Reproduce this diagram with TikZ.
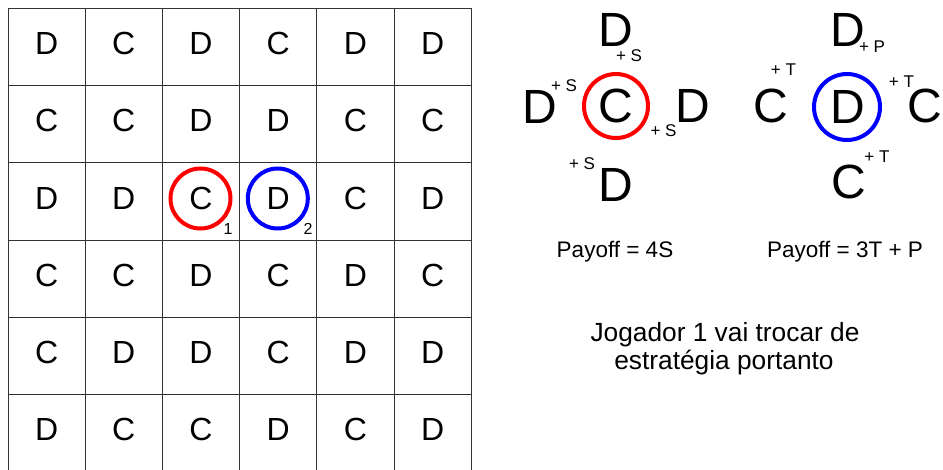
\documentclass[tikz,border=0pt]{standalone}
\usepackage{fontspec}
\setmainfont{Liberation Sans}
\begin{document}
\begin{tikzpicture}[x=1pt,y=-1pt,
  gridline/.style={draw=black!80,line width=1pt},
  cell/.style={inner sep=0pt,font=\fontsize{32}{38}\selectfont},
  big/.style={inner sep=0pt,font=\fontsize{48}{56}\selectfont},
  small/.style={inner sep=0pt,font=\fontsize{17}{20}\selectfont},
  sub/.style={inner sep=0pt,font=\fontsize{16}{19}\selectfont},
  caption/.style={inner sep=0pt,font=\fontsize{22.5}{26}\selectfont,anchor=base},
  note/.style={inner sep=0pt,align=center,font=\fontsize{26.3}{29}\selectfont,anchor=base},
  redring/.style={draw=red,line width=4pt},
  bluering/.style={draw=blue,line width=4pt}]
\useasboundingbox (0,0) rectangle (943,470);
\fill[white] (0,0) rectangle (943,470);
% grid
\foreach \i in {0,...,6} {
  \draw[gridline] ({8+77.2*\i},8.5) -- ({8+77.2*\i},472);
  \draw[gridline] (8,{8.5+77.2*\i}) -- (471.2,{8.5+77.2*\i});
}
\foreach \row [count=\r from 0] in {{D,C,D,C,D,D},{C,C,D,D,C,C},{D,D,C,D,C,D},{C,C,D,C,D,C},{C,D,D,C,D,D},{D,C,C,D,C,D}} {
  \foreach \l [count=\c from 0] in \row {
    \node[cell] (g\r\c) at ({8+77.2*(\c+0.5)},{8.5+77.2*(\r+0.5)-3.5}) {\l};
  }
}
\draw[redring] (200.5,198.5) circle (30);
\draw[bluering] (277.8,198.5) circle (30);
\node[sub] (s1) at (228,229) {1};
\node[sub] (s2) at (308,229) {2};
% left cluster (player 1)
\node[big] (ac) at (616,106) {C};
\draw[redring] (616,106) circle (32);
\node[big] (at) at (616,29.5) {D};
\node[small] (ats) at (629,56) {+ S};
\node[big] (al) at (540,106.5) {D};
\node[small] (als) at (564,86) {+ S};
\node[big] (ar) at (693,105.5) {D};
\node[small] (ars) at (663.5,131) {+ S};
\node[big] (ab) at (616,184.5) {D};
\node[small] (abs) at (582,164) {+ S};
% right cluster (player 2)
\node[big] (bc) at (848,106.5) {D};
\draw[bluering] (847,107) circle (33);
\node[big] (bt) at (848,29.5) {D};
\node[small] (bts) at (872,47) {+ P};
\node[big] (bl) at (771,105.5) {C};
\node[small] (bls) at (783.5,70) {+ T};
\node[big] (br) at (925,105.5) {C};
\node[small] (brs) at (901.5,82) {+ T};
\node[big] (bb) at (848.5,182) {C};
\node[small] (bbs) at (877,157) {+ T};
% captions
\node[caption] (pa) at (615,258) {Payoff = 4S};
\node[caption] (pb) at (845,258) {Payoff = 3T + P};
\node[note] (n1) at (725,341.5) {Jogador 1 vai trocar de};
\node[note] (n2) at (724,370) {estratégia portanto};
\end{tikzpicture}
\end{document}
